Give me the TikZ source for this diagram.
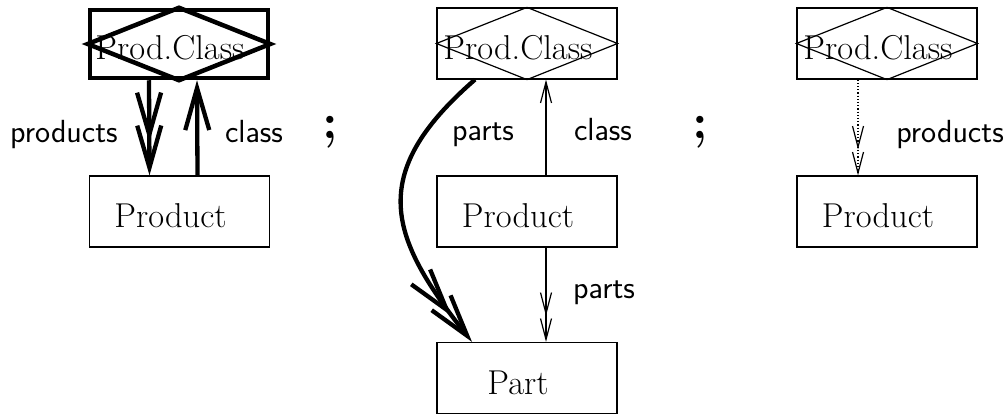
\documentclass[tikz,border=0pt]{standalone}
\usetikzlibrary{arrows.meta}
\begin{document}
\begin{tikzpicture}[x=1pt,y=-1pt,
  serif/.style={font=\fontsize{34.5}{40}\selectfont},
  lab/.style={font=\sffamily\fontsize{32}{38}\selectfont, anchor=base, inner sep=0pt},
  box/.style={draw, line width=1.2pt, minimum width=180pt, minimum height=71pt,
    inner sep=0pt, serif, text height=32pt, text depth=0pt},
  thickbox/.style={box, line width=4.5pt, minimum width=178pt, minimum height=68pt},
  semi/.style={font=\bfseries\fontsize{50}{50}\selectfont, inner sep=0pt},
  thin/.style={line width=1.2pt},
  thick2/.style={line width=4.3pt},
  TV/.tip={Straight Barb[length=42pt,width=24pt]},
  tv/.tip={Straight Barb[length=21pt,width=11pt]},
  TVV/.tip={Straight Barb[length=42pt,width=24pt,sep=-19pt]Straight Barb[length=42pt,width=24pt]},
  tvv/.tip={Straight Barb[length=21pt,width=11pt,sep=2pt]Straight Barb[length=21pt,width=11pt]},
]
\useasboundingbox (0,0) rectangle (1008,417);

% panel 1
\node[thickbox] (pc1) at (179,44) {Prod.Class\hspace*{18pt}};
\draw[line width=4.5pt, line join=miter] (pc1.west) -- (pc1.north) -- (pc1.east) -- (pc1.south) -- cycle;
\node[box] (p1) at (179.5,211.5) {Product\hspace*{18pt}};
\draw[thick2, -TVV] ([xshift=-30pt]pc1.south) -- ([xshift=-30pt]p1.north);
\draw[thick2, -TV] ([xshift=18pt]p1.north) -- ([xshift=18pt]pc1.south);
\node[lab] (l1) at (64,142) {products};
\node[lab] (l2) at (254,142) {class};
\node[semi] (s1) at (330,132) {;};

% panel 2
\node[box] (pc2) at (527,43.5) {Prod.Class\hspace*{18pt}};
\draw[thin] (pc2.west) -- (pc2.north) -- (pc2.east) -- (pc2.south) -- cycle;
\node[box] (p2) at (527,211.5) {Product\hspace*{18pt}};
\node[box] (pt2) at (527,378) {Part\hspace*{18pt}};
\draw[thin, -tv] ([xshift=19pt]p2.north) -- ([xshift=19pt]pc2.south);
\draw[thin, -tvv] ([xshift=19pt]p2.south) -- ([xshift=19pt]pt2.north);
\draw[thick2, -TVV] ([xshift=-52pt]pc2.south) .. controls (365,175) and (390,238) .. ([xshift=-55pt]pt2.north);
\node[lab] (l3) at (483,140) {parts};
\node[lab] (l4) at (603,140) {class};
\node[lab] (l5) at (604,298) {parts};
\node[semi] (s2) at (700,132) {;};

% panel 3
\node[box] (pc3) at (887,43.5) {Prod.Class\hspace*{18pt}};
\draw[thin] (pc3.west) -- (pc3.north) -- (pc3.east) -- (pc3.south) -- cycle;
\node[box] (p3) at (887,211.5) {Product\hspace*{18pt}};
\draw[thin, dotted, -tvv] ([xshift=-29pt]pc3.south) -- ([xshift=-29pt]p3.north);
\node[lab] (l6) at (950,142) {products};
\end{tikzpicture}
\end{document}
